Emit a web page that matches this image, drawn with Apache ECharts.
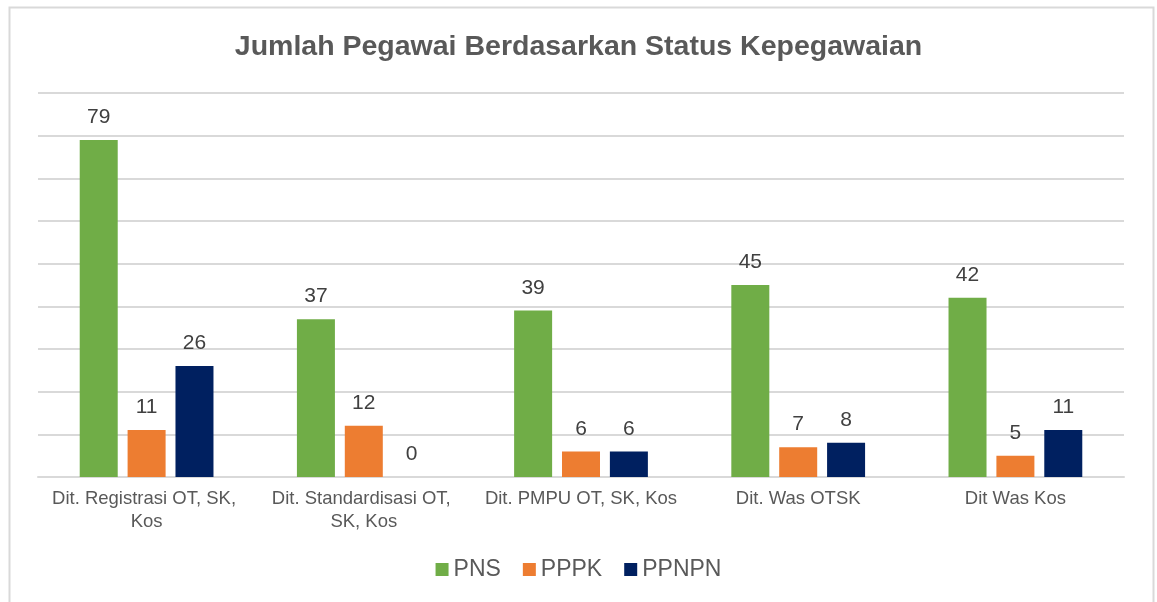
<!DOCTYPE html>
<html>
<head>
<meta charset="utf-8">
<title>Jumlah Pegawai Berdasarkan Status Kepegawaian</title>
<script src="https://cdn.jsdelivr.net/npm/echarts@6/dist/echarts.min.js"></script>
<style>
    html, body { margin: 0; padding: 0; background: #fff; }
    #chart { width: 1157px; height: 602px; }
</style>
</head>
<body>
<div id="chart"></div>
<script>
// data
const categories = [
    'Dit. Registrasi OT, SK, Kos',
    'Dit. Standardisasi OT, SK, Kos',
    'Dit. PMPU OT, SK, Kos',
    'Dit. Was OTSK',
    'Dit Was Kos'
];
const pns = [79, 37, 39, 45, 42];
const pppk = [11, 12, 6, 7, 5];
const ppnpn = [26, 0, 6, 8, 11];

const seriesNames = ['PNS', 'PPPK', 'PPNPN'];
const seriesColors = ['#70AD47', '#ED7D31', '#002060'];
const seriesData = [pns, pppk, ppnpn];

const chart = echarts.init(document.getElementById('chart'));

let series = seriesNames.map((name, i) => ({
    name: name,
    type: 'bar',
    data: seriesData[i],
    barWidth: 38,
    barGap: '26%',
    itemStyle: {
        color: seriesColors[i]
    },
    label: {
        show: true,
        position: 'top',
        distance: 12,
        color: '#404040',
        fontSize: 21,
        fontFamily: 'Liberation Sans'
    }
}));

chart.setOption({
    animation: false,
    textStyle: {
        fontFamily: 'Liberation Sans'
    },
    graphic: [{
        type: 'rect',
        shape: { x: 9.5, y: 7.5, width: 1144, height: 620 },
        style: { fill: 'none', stroke: '#d9d9d9', lineWidth: 2 },
        silent: true
    }],
    title: {
        text: 'Jumlah Pegawai Berdasarkan Status Kepegawaian',
        left: 'center',
        top: 28,
        textStyle: {
            color: '#595959',
            fontSize: 28.5,
            fontWeight: 'bold'
        }
    },
    legend: {
        bottom: 16,
        left: 'center',
        itemWidth: 13,
        itemHeight: 13,
        itemGap: 22,
        icon: 'rect',
        textStyle: {
            color: '#595959',
            fontSize: 23
        },
        data: seriesNames
    },
    grid: {
        left: 38,
        right: 33,
        top: 93,
        bottom: 125
    },
    xAxis: {
        type: 'category',
        data: categories,
        axisLine: {
            lineStyle: { color: '#d9d9d9', width: 2 }
        },
        axisTick: { show: false },
        axisLabel: {
            margin: 10,
            color: '#595959',
            fontSize: 18.5,
            lineHeight: 23,
            width: 210,
            overflow: 'break',
            interval: 0
        }
    },
    yAxis: {
        type: 'value',
        min: 0,
        max: 90,
        interval: 10,
        axisLine: { show: false },
        axisTick: { show: false },
        axisLabel: { show: false },
        splitLine: {
            lineStyle: { color: '#d9d9d9', width: 2 }
        }
    },
    series: series
});
</script>
</body>
</html>
